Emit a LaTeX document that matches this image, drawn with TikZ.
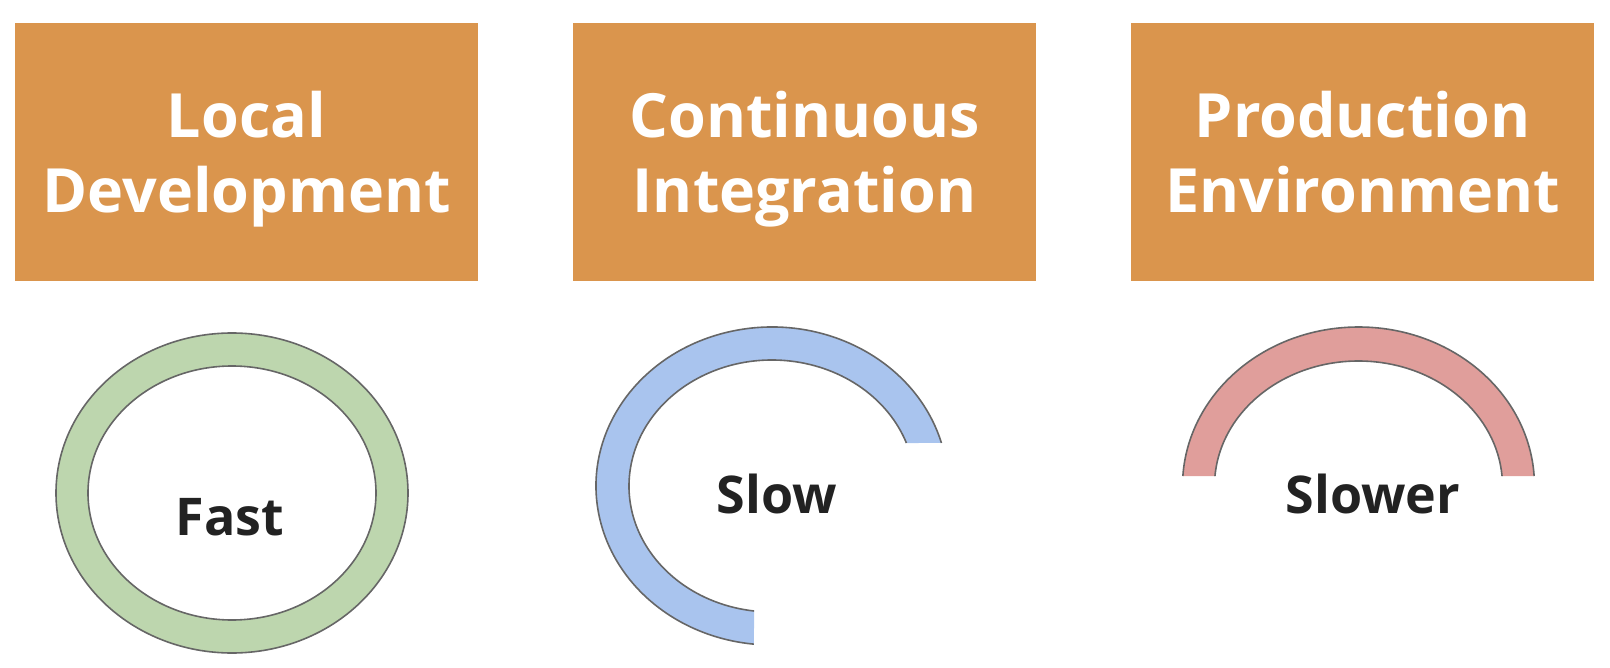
\documentclass[tikz,border=0pt]{standalone}
\usepackage{fontspec}
\setmainfont{Open Sans}
\usetikzlibrary{positioning}
\definecolor{stagec}{RGB}{218,149,77}
\definecolor{fastc}{RGB}{189,214,174}
\definecolor{slowc}{RGB}{169,196,238}
\definecolor{slowerc}{RGB}{224,158,155}
\definecolor{rimc}{RGB}{102,102,102}
\definecolor{labelc}{RGB}{34,34,34}
\tikzset{
  stage/.style    = {fill=stagec, minimum width=463pt, minimum height=258pt,
                     inner sep=0pt, outer sep=0pt, align=center, text=white,
                     text height=122pt, text depth=0pt,
                     font=\fontsize{61}{75}\selectfont\bfseries},
  band/.style     = {draw=none},
  rim/.style      = {draw=rimc, line width=1.6pt},
  speed/.style    = {text=labelc, anchor=base, inner sep=0pt,
                     font=\fontsize{52}{60}\selectfont\bfseries},
}
\begin{document}
\begin{tikzpicture}[x=1pt, y=-1pt]
\useasboundingbox (0,0) rectangle (1610,668);

\node[stage] (local) at (246.5,152) {Local\\Development};
\node[stage, right=95pt of local] (ci) {Continuous\\Integration};
\node[stage, right=95pt of ci] (prod) {Production\\Environment};

% fast: full ring
\path[band, fill=fastc, even odd rule] (232,493) ellipse [x radius=176pt, y radius=160pt]
  (232,493) ellipse [x radius=144pt, y radius=127pt];
\draw[rim] (232,493) ellipse [x radius=176pt, y radius=160pt];
\draw[rim] (232,493) ellipse [x radius=144pt, y radius=127pt];
\node[speed] (fast) at (230,535) {Fast};

% slow: three quarters
\path[band, fill=slowc] ([shift={(15.7:176pt and 159pt)}]772,486)
  arc [start angle=15.7, end angle=264.1, x radius=176pt, y radius=159pt]
  -- ([shift={(262.8:143pt and 126pt)}]772,486)
  arc [start angle=262.8, end angle=19.95, x radius=143pt, y radius=126pt] -- cycle;
\draw[rim] ([shift={(15.7:176pt and 159pt)}]772,486)
  arc [start angle=15.7, end angle=264.1, x radius=176pt, y radius=159pt];
\draw[rim] ([shift={(262.8:143pt and 126pt)}]772,486)
  arc [start angle=262.8, end angle=19.95, x radius=143pt, y radius=126pt];
\node[speed] (slow) at (777,513) {Slow};

% slower: half
\path[band, fill=slowerc] ([shift={(3.6:176pt and 159pt)}]1358.5,486)
  arc [start angle=3.6, end angle=176.4, x radius=176pt, y radius=159pt]
  -- ([shift={(175.45:144pt and 125pt)}]1358.5,486)
  arc [start angle=175.45, end angle=4.55, x radius=144pt, y radius=125pt] -- cycle;
\draw[rim] ([shift={(3.6:176pt and 159pt)}]1358.5,486)
  arc [start angle=3.6, end angle=176.4, x radius=176pt, y radius=159pt];
\draw[rim] ([shift={(175.45:144pt and 125pt)}]1358.5,486)
  arc [start angle=175.45, end angle=4.55, x radius=144pt, y radius=125pt];
\node[speed] (slower) at (1373,513) {Slower};

\end{tikzpicture}
\end{document}
